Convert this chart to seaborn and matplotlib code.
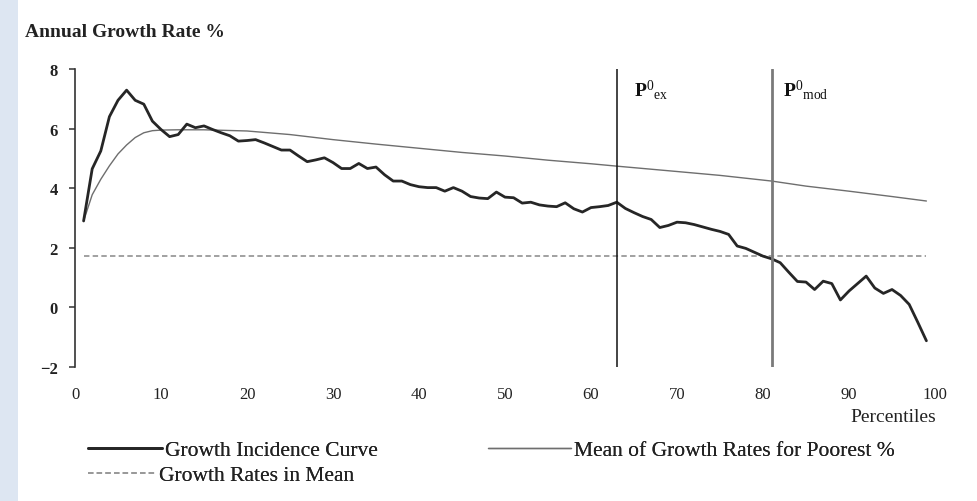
import matplotlib
matplotlib.use("Agg")
import matplotlib.pyplot as plt
import seaborn as sns
import pandas as pd
from matplotlib.lines import Line2D
from matplotlib.patches import Rectangle

# ---------------- data ----------------
gic_x = list(range(1, 100))
gic_y = [2.90, 4.65, 5.25, 6.40, 6.95, 7.29, 6.95, 6.82, 6.25, 5.97,
         5.73, 5.80, 6.15, 6.03, 6.09, 5.97, 5.86, 5.76, 5.58, 5.60,
         5.63, 5.52, 5.40, 5.28, 5.28, 5.08, 4.89, 4.95, 5.02, 4.86,
         4.66, 4.66, 4.83, 4.66, 4.71, 4.45, 4.24, 4.24, 4.12, 4.05,
         4.02, 4.02, 3.90, 4.02, 3.90, 3.72, 3.67, 3.65, 3.87, 3.70,
         3.68, 3.50, 3.53, 3.44, 3.40, 3.38, 3.51, 3.31, 3.20, 3.35,
         3.38, 3.42, 3.53, 3.32, 3.18, 3.05, 2.95, 2.68, 2.75, 2.86,
         2.84, 2.78, 2.70, 2.62, 2.55, 2.45, 2.06, 1.98, 1.85, 1.72,
         1.63, 1.50, 1.18, 0.87, 0.85, 0.60, 0.88, 0.80, 0.25, 0.55,
         0.80, 1.05, 0.65, 0.47, 0.60, 0.40, 0.10, -0.50, -1.12]

mean_x = [1, 2, 3, 4, 5, 6, 7, 8, 9, 10, 12, 15, 20, 25, 30, 35, 40, 45,
          50, 55, 60, 63, 70, 75, 81, 85, 90, 95, 99]
mean_y = [2.90, 3.78, 4.30, 4.75, 5.15, 5.45, 5.70, 5.86, 5.93, 5.95, 5.96,
          5.96, 5.92, 5.80, 5.63, 5.48, 5.34, 5.20, 5.08, 4.94, 4.82, 4.74,
          4.56, 4.43, 4.24, 4.07, 3.90, 3.72, 3.57]

mean_growth_x = [1, 99]
mean_growth_y = [1.73, 1.73]

p_ex = 63
p_mod = 81

x_ticks = [0, 10, 20, 30, 40, 50, 60, 70, 80, 90, 100]
y_ticks = [-2, 0, 2, 4, 6, 8]

# ---------------- style ----------------
sns.set_style("white")
plt.rcParams["font.family"] = ["Liberation Serif", "DejaVu Serif"]
plt.rcParams["mathtext.fontset"] = "custom"
plt.rcParams["mathtext.rm"] = "Liberation Serif"
plt.rcParams["mathtext.it"] = "Liberation Serif:italic"
plt.rcParams["mathtext.bf"] = "Liberation Serif:bold"

fig = plt.figure(figsize=(9.77, 5.02), dpi=100)
W, H = 977, 502
ax = fig.add_axes([75 / W, (H - 368) / H, (935 - 75) / W, (368 - 70) / H])

# left light-blue strip
fig.patches.append(Rectangle((0, 0), 18 / W, 1, transform=fig.transFigure,
                             facecolor="#dde6f2", edgecolor="none", zorder=0))

gic_df = pd.DataFrame({"p": gic_x, "g": gic_y})
mean_df = pd.DataFrame({"p": mean_x, "g": mean_y})
mg_df = pd.DataFrame({"p": mean_growth_x, "g": mean_growth_y})

DASH = (0, (3.0, 1.8))

sns.lineplot(data=mean_df, x="p", y="g", ax=ax, color="#6e6e6e", lw=1.0, zorder=3)
sns.lineplot(data=mg_df, x="p", y="g", ax=ax, color="#9a9a9a", lw=1.3,
             linestyle=DASH, zorder=2)
sns.lineplot(data=gic_df, x="p", y="g", ax=ax, color="#262626", lw=2.0, zorder=4)

ax.axvline(p_ex, color="#111111", lw=1.1, zorder=5)
ax.axvline(p_mod, color="#7a7a7a", lw=2.0, zorder=5)

ax.text(65.0, 7.1, r"$\mathbf{P}^{0}{}_{\mathrm{ex}}$", fontsize=14, color="#111111",
        va="baseline")
ax.text(82.3, 7.1, r"$\mathbf{P}^{0}{}_{\mathrm{mod}}$", fontsize=14, color="#111111",
        va="baseline")

ax.set_xlim(0, 100)
ax.set_ylim(-2, 8)
ax.set_xticks(x_ticks)
ax.set_yticks(y_ticks)
ax.set_xlabel("")
ax.set_ylabel("")
for s in ["top", "right", "bottom"]:
    ax.spines[s].set_visible(False)
ax.spines["left"].set_color("#333333")
ax.spines["left"].set_linewidth(1.2)
ax.tick_params(axis="y", direction="out", length=4.5, width=1.1, color="#333333",
               labelsize=12, pad=8, left=True, labelcolor="#222222")
ax.tick_params(axis="x", length=0, labelsize=12, pad=14, labelcolor="#222222")
for t in ax.get_yticklabels():
    t.set_fontweight("bold")

fig.text(25 / W, 1 - 33 / H, "Annual Growth Rate %", fontsize=14, fontweight="bold",
         ha="left", va="center", color="#222222")
fig.text(936 / W, 1 - 418 / H, "Percentiles", fontsize=14,
         ha="right", va="center", color="#222222")

# legends
def leg(handle, label, x, y, hl):
    lg = fig.legend([handle], [label], loc="center left",
                    bbox_to_anchor=(x / W, 1 - y / H), frameon=False,
                    fontsize=15.5, handlelength=hl, handletextpad=0.15,
                    borderpad=0, borderaxespad=0)
    for t in lg.get_texts():
        t.set_color("#222222")
    fig.add_artist(lg)

leg(Line2D([], [], color="#262626", lw=2.0), "Growth Incidence Curve", 88, 451, 3.44)
leg(Line2D([], [], color="#6e6e6e", lw=1.0), "Mean of Growth Rates for Poorest %", 488, 451, 3.86)
leg(Line2D([], [], color="#9a9a9a", lw=1.3, linestyle=DASH),
    "Growth Rates in Mean", 88, 476, 3.16)

fig.savefig("out.png", dpi=100)
